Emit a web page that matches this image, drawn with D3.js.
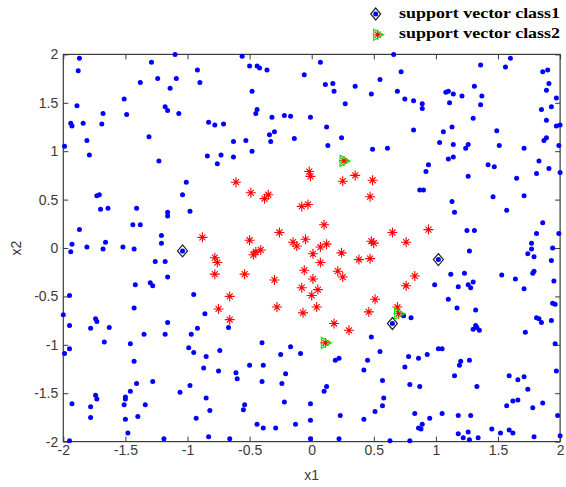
<!DOCTYPE html>
<html><head><meta charset="utf-8">
<script src="https://cdn.jsdelivr.net/npm/d3@7"></script>
<style>body{margin:0;background:#fff}</style>
</head><body><svg id="c" width="566" height="487"></svg>
<script>
// class 1 (blue dots, outside)
const class1 = [
[-1.87,1.96],[-1.88,1.83],[-1.10,2.00],[-1.29,1.92],[-1.38,1.71],[-1.24,1.75],[-1.09,1.75],[-1.14,1.65],[-0.92,1.84],[-0.90,1.71],
[-1.51,1.54],[-1.89,1.47],[-1.68,1.39],[-1.49,1.38],[-1.18,1.46],[-1.16,1.42],[-1.07,1.39],[-1.94,1.29],[-1.93,1.26],[-1.84,1.29],
[-1.69,1.28],[-0.83,1.30],[-0.78,1.27],[-0.71,1.28],[-1.31,1.15],[-1.99,1.05],[-1.81,1.11],[-1.79,0.96],[-1.23,0.90],[-0.84,0.95],
[-0.76,0.87],[-0.73,0.96],[-1.01,0.68],[-0.56,1.98],[-0.50,1.88],[-0.44,1.88],[-0.42,1.86],[-0.36,1.84],[0.07,1.92],[-0.06,1.79],
[0.11,1.69],[0.17,1.70],[0.18,1.62],[0.35,1.67],[0.48,1.59],[0.55,1.74],[-0.48,1.62],[0.27,1.49],[-0.44,1.43],[-0.45,1.39],
[-0.32,1.35],[-0.22,1.37],[-0.17,1.36],[-0.01,1.35],[0.12,1.25],[-0.34,1.17],[-0.30,1.20],[-0.63,1.10],[-0.53,1.11],[-0.33,1.10],
[-0.14,1.13],[0.24,1.14],[0.13,1.06],[-0.63,0.94],[-0.48,1.00],[0.49,1.02],[0.61,1.03],[0.66,2.00],[1.60,1.96],[1.36,1.89],
[1.56,1.87],[0.72,1.82],[1.86,1.82],[1.90,1.84],[1.91,1.70],[1.89,1.63],[1.97,1.55],[0.69,1.62],[0.75,1.54],[0.82,1.52],
[0.89,1.49],[0.89,1.44],[1.08,1.61],[1.10,1.62],[1.14,1.59],[1.21,1.57],[1.31,1.67],[1.37,1.57],[1.11,1.50],[1.36,1.48],
[1.85,1.43],[1.93,1.46],[1.30,1.34],[1.89,1.32],[1.97,1.26],[2.00,1.27],[0.82,1.22],[1.06,1.20],[1.13,1.25],[1.49,1.21],
[1.03,1.09],[1.14,1.07],[1.26,1.07],[1.24,1.03],[1.51,1.06],[1.71,1.03],[1.87,1.11],[1.89,1.14],[1.99,1.06],[1.10,0.92],
[1.14,0.94],[0.94,0.86],[0.92,0.79],[1.42,0.86],[1.47,0.84],[1.83,0.90],[1.81,0.77],[1.91,0.82],[2.00,0.78],[1.26,0.74],
[1.65,0.72],[-1.73,0.54],[-1.71,0.55],[-1.04,0.55],[-1.70,0.40],[-1.64,0.41],[-1.41,0.41],[-1.16,0.37],[-1.16,0.33],[-0.98,0.38],
[-1.44,0.24],[-1.38,0.24],[-1.87,0.19],[-1.21,0.13],[-1.21,0.05],[-1.93,0.04],[-1.94,-0.04],[-1.81,0.01],[-1.66,0.06],[-1.68,-0.01],
[-1.52,0.01],[-1.43,-0.01],[-1.26,-0.14],[-1.18,-0.14],[-1.16,-0.30],[-1.42,-0.38],[-1.30,-0.36],[-1.28,-0.39],[-1.95,-0.49],[-0.95,-0.48],
[-1.43,-0.62],[-0.86,-0.68],[-2.00,-0.69],[0.87,0.60],[0.90,0.60],[1.46,0.53],[1.71,0.54],[1.13,0.48],[1.15,0.37],[1.57,0.39],
[1.86,0.26],[1.25,0.18],[1.31,0.18],[1.81,0.15],[1.99,0.15],[1.77,0.05],[1.77,-0.01],[1.74,-0.06],[1.94,0.00],[1.79,-0.09],
[1.93,-0.13],[1.27,-0.03],[1.12,-0.27],[1.23,-0.26],[1.53,-0.28],[1.64,-0.32],[1.78,-0.26],[1.79,-0.24],[1.95,-0.34],[0.99,-0.38],
[1.18,-0.40],[1.26,-0.38],[1.28,-0.41],[1.30,-0.35],[1.71,-0.42],[1.10,-0.53],[1.94,-0.57],[1.96,-0.58],[1.17,-0.62],[1.32,-0.64],
[-1.95,-0.80],[-1.74,-0.73],[-1.73,-0.76],[-1.78,-0.83],[-1.63,-0.82],[-1.95,-1.04],[-1.99,-1.09],[-1.67,-0.97],[-1.46,-0.99],[-1.35,-0.89],
[-1.43,-1.17],[-1.18,-0.89],[-1.16,-0.77],[-0.97,-0.89],[-0.92,-0.83],[-0.99,-1.03],[-0.95,-1.08],[-0.85,-1.12],[-0.74,-1.06],[-0.87,-1.24],
[-0.75,-1.27],[-0.67,-0.82],[-1.93,-1.61],[-1.74,-1.52],[-1.73,-1.56],[-1.78,-1.64],[-1.78,-1.75],[-1.50,-1.54],[-1.50,-1.56],[-1.51,-1.62],
[-1.46,-1.48],[-1.41,-1.40],[-1.28,-1.38],[-1.34,-1.62],[-1.50,-1.77],[-1.40,-1.74],[-1.48,-1.91],[-1.06,-1.49],[-0.98,-1.42],[-0.85,-1.55],
[-0.82,-1.68],[-0.93,-1.76],[-1.95,-1.99],[-1.19,-1.97],[-0.83,-1.95],[-0.66,-1.97],[-0.40,-0.98],[-0.17,-1.02],[-0.25,-1.10],[-0.09,-1.09],
[-0.50,-1.21],[-0.39,-1.21],[-0.61,-1.29],[-0.60,-1.35],[-0.40,-1.38],[-0.21,-1.30],[-0.24,-1.40],[0.19,-1.16],[0.22,-1.14],[0.48,-0.92],
[0.55,-1.07],[0.45,-1.16],[0.42,-1.26],[0.57,-1.37],[0.12,-1.43],[0.10,-1.48],[-0.54,-1.62],[-0.55,-1.67],[-0.22,-1.59],[-0.01,-1.61],
[0.58,-1.55],[0.57,-1.63],[0.51,-1.69],[0.23,-1.73],[0.42,-1.77],[-0.44,-1.82],[-0.39,-1.86],[-0.29,-1.86],[-0.13,-1.82],[-0.01,-1.78],
[-0.01,-1.97],[0.22,-1.97],[0.74,-0.70],[0.80,-0.72],[1.32,-0.80],[1.33,-0.82],[1.30,-0.84],[1.35,-0.85],[1.81,-0.72],[1.83,-0.73],
[1.85,-0.77],[1.93,-0.75],[1.72,-0.87],[1.96,-0.99],[0.78,-1.12],[0.86,-1.14],[0.93,-1.10],[1.02,-1.04],[1.05,-1.04],[1.20,-1.17],
[1.19,-1.21],[1.27,-1.16],[0.75,-1.23],[1.15,-1.32],[1.59,-1.32],[1.66,-1.36],[1.71,-1.33],[1.97,-1.27],[1.74,-1.46],[0.79,-1.41],
[0.87,-1.43],[1.33,-1.43],[1.62,-1.58],[1.66,-1.57],[1.57,-1.63],[1.86,-1.60],[1.78,-1.65],[0.83,-1.71],[0.95,-1.76],[1.05,-1.71],
[1.18,-1.73],[1.28,-1.73],[1.98,-1.73],[0.86,-1.86],[0.89,-1.82],[0.88,-1.87],[1.45,-1.87],[1.52,-1.91],[1.59,-1.88],[1.62,-1.91],
[1.18,-1.92],[1.22,-1.96],[1.26,-1.90],[1.27,-1.98],[1.34,-1.96],[1.79,-1.95],[2.00,-1.94],[0.63,-1.99],[0.79,-1.99],
[-1.04,-0.03],[1.02,-0.12],[0.65,-0.78]
];
// class 2 (red stars, inside)
const class2 = [
[-0.02,0.79],[-0.01,0.74],[0.35,0.75],[0.25,0.69],[0.49,0.70],[-0.61,0.68],[-0.88,0.11],[-0.78,-0.10],[-0.76,-0.15],[-0.78,-0.27],
[-0.66,-0.50],[-0.75,-0.63],[-0.49,0.57],[-0.38,0.51],[-0.35,0.55],[-0.08,0.43],[-0.03,0.45],[0.47,0.53],[0.10,0.24],[-0.26,0.16],
[-0.50,0.08],[-0.15,0.06],[-0.12,0.02],[-0.05,0.09],[0.07,0.01],[0.12,0.04],[-0.45,-0.04],[-0.47,-0.07],[-0.41,-0.02],[0.48,0.07],
[0.50,0.05],[0.01,-0.06],[0.24,-0.05],[0.07,-0.15],[0.38,-0.12],[0.47,-0.11],[-0.54,-0.27],[-0.06,-0.23],[0.21,-0.24],[0.25,-0.30],
[-0.30,-0.33],[0.01,-0.32],[-0.08,-0.41],[0.05,-0.43],[0.00,-0.49],[0.51,-0.53],[-0.28,-0.61],[0.04,-0.61],[0.46,-0.66],[-0.07,-0.67],
[0.65,0.16],[0.94,0.19],[0.76,0.06],[0.83,-0.29],[0.76,-0.39],[0.69,-0.61],[-0.66,-0.74],[0.18,-0.78],[0.30,-0.85],
[0.26,0.90],[0.11,-0.98],[0.70,-0.68]
];
const sv1 = [[-1.04,-0.03],[1.02,-0.12],[0.65,-0.78]];
const sv2 = [[0.26,0.90],[0.11,-0.98],[0.70,-0.68]];
const tickValues = [-2,-1.5,-1,-0.5,0,0.5,1,1.5,2];
const tickLabels = ["-2","-1.5","-1","-0.5","0","0.5","1","1.5","2"];
const legendLabels = ["support vector class1","support vector class2"];
const axisLabels = ["x1","x2"];

const svg = d3.select('#c');
const x = d3.scaleLinear().domain([-2,2]).range([63.3,560.1]);
const y = d3.scaleLinear().domain([-2,2]).range([441.6,54.4]);
const fmt = d => tickLabels[tickValues.indexOf(d)];
const axCol = '#3a3a3a';

const starPath = 'M-5,0H5M0,-5V5M-3,-3L3,3M-3,3L3,-3';
const diamondPath = 'M0,-6L5,0L0,6L-5,0Z';
const triPath = 'M-4,-5.5L6,0L-4,5.5Z';

function styleAxis(g){
  g.select('.domain').remove();
  g.selectAll('.tick line').attr('stroke',axCol);
  g.selectAll('.tick text').attr('fill',axCol).attr('font-family','Liberation Sans, Arial, sans-serif').attr('font-size',14);
}
svg.append('g').attr('transform',`translate(0,${y(-2)})`)
  .call(d3.axisBottom(x).tickValues(tickValues).tickFormat(fmt).tickSize(-5).tickPadding(3)).call(styleAxis);
svg.append('g').attr('transform',`translate(${x(-2)},0)`)
  .call(d3.axisLeft(y).tickValues(tickValues).tickFormat(fmt).tickSize(-5).tickPadding(5)).call(styleAxis);
svg.append('g').attr('transform',`translate(0,${y(2)})`)
  .call(d3.axisTop(x).tickValues(tickValues).tickFormat('').tickSize(-5)).call(styleAxis);
svg.append('g').attr('transform',`translate(${x(2)},0)`)
  .call(d3.axisRight(y).tickValues(tickValues).tickFormat('').tickSize(-5)).call(styleAxis);
svg.append('rect').attr('x',x(-2)).attr('y',y(2)).attr('width',x(2)-x(-2)).attr('height',y(-2)-y(2))
  .attr('fill','none').attr('stroke',axCol).attr('stroke-width',1.2);

svg.append('g').selectAll('circle').data(class1).join('circle')
  .attr('cx',d=>x(d[0])).attr('cy',d=>y(d[1])).attr('r',2.5).attr('fill','#0000ff');
svg.append('g').selectAll('path').data(class2).join('path')
  .attr('transform',d=>`translate(${x(d[0])},${y(d[1])})`).attr('d',starPath)
  .attr('stroke','#ff0000').attr('stroke-width',1.1).attr('fill','none');
svg.append('g').selectAll('path').data(sv1).join('path')
  .attr('transform',d=>`translate(${x(d[0])},${y(d[1])})`).attr('d',diamondPath)
  .attr('stroke','#222').attr('stroke-width',1.2).attr('fill','none');
svg.append('g').selectAll('path').data(sv2).join('path')
  .attr('transform',d=>`translate(${x(d[0])},${y(d[1])})`).attr('d',triPath)
  .attr('stroke','#00ee00').attr('stroke-width',1.2).attr('fill','none');

// axis labels
svg.append('text').attr('x',(x(-2)+x(2))/2).attr('y',480).attr('text-anchor','middle')
  .attr('font-family','Liberation Sans, Arial, sans-serif').attr('font-size',14).attr('fill',axCol).text(axisLabels[0]);
svg.append('text').attr('transform',`translate(21,${(y(-2)+y(2))/2}) rotate(-90)`).attr('text-anchor','middle')
  .attr('font-family','Liberation Sans, Arial, sans-serif').attr('font-size',14).attr('fill',axCol).text(axisLabels[1]);

// legend
const lg = svg.append('g');
const l1 = lg.append('g').attr('transform','translate(375.7,14)');
l1.append('circle').attr('r',2.5).attr('fill','#0000ff');
l1.append('path').attr('d',diamondPath).attr('stroke','#222').attr('stroke-width',1.2).attr('fill','none');
const l2 = lg.append('g').attr('transform','translate(377.7,34.7)');
l2.append('path').attr('d',starPath).attr('stroke','#ff0000').attr('stroke-width',1.1).attr('fill','none');
l2.append('path').attr('d',triPath).attr('stroke','#00ee00').attr('stroke-width',1.2).attr('fill','none');
legendLabels.forEach((t,i)=>{
  lg.append('text').attr('x',399).attr('y',17.5+i*20).attr('font-family','Liberation Serif, Times New Roman, serif')
    .attr('font-weight','bold').attr('font-size',15).attr('fill','#000')
    .attr('textLength',161).attr('lengthAdjust','spacingAndGlyphs').text(t);
});
</script></body></html>
